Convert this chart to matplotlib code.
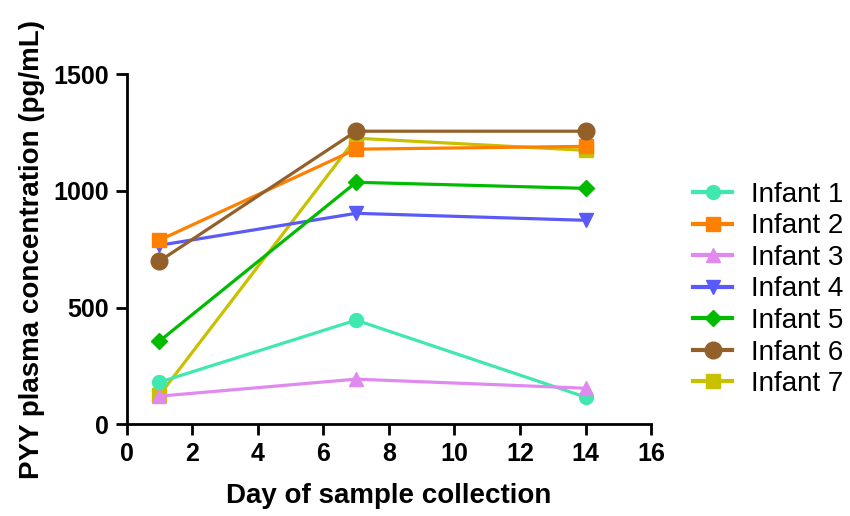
import matplotlib.pyplot as plt

plt.rcParams['font.family'] = ['Liberation Sans', 'DejaVu Sans']

days = [1, 7, 14]
infants = ['Infant 1', 'Infant 2', 'Infant 3', 'Infant 4', 'Infant 5', 'Infant 6', 'Infant 7']
infant1 = [180, 446, 116]
infant2 = [789, 1179, 1191]
infant3 = [120, 193, 154]
infant4 = [767, 904, 874]
infant5 = [356, 1037, 1011]
infant6 = [699, 1256, 1256]
infant7 = [124, 1226, 1174]
series = [infant1, infant2, infant3, infant4, infant5, infant6, infant7]

colors = ['#40E8B0', '#FF7F00', '#E08AF0', '#5A5AF8', '#00BB00', '#94602A', '#C8C000']
markers = ['o', 's', '^', 'v', 'D', 'o', 's']
msizes = [10, 10, 10, 10, 8, 12, 10]
zorders = [4, 4, 5, 3, 4, 6, 2]

fig = plt.figure(figsize=(8.5, 5.16), dpi=100)
ax = fig.add_axes([0.149, 0.178, 0.617, 0.678])

for name, vals, c, m, ms, z in zip(infants, series, colors, markers, msizes, zorders):
    ax.plot(days, vals, color=c, marker=m, markersize=ms, linewidth=2.3,
            label=name, zorder=z, clip_on=False)

ax.set_xlim(0, 16)
ax.set_ylim(0, 1500)
ax.set_xticks(range(0, 17, 2))
ax.set_yticks([0, 500, 1000, 1500])
for s in ['top', 'right']:
    ax.spines[s].set_visible(False)
for s in ['left', 'bottom']:
    ax.spines[s].set_linewidth(2)
ax.tick_params(width=2, length=8, labelsize=18, pad=5)
for lbl in ax.get_xticklabels() + ax.get_yticklabels():
    lbl.set_fontweight('bold')

ax.set_xlabel('Day of sample collection', fontsize=20, fontweight='bold', labelpad=12)
ax.set_ylabel('PYY plasma concentration (pg/mL)', fontsize=20, fontweight='bold', labelpad=6)

leg = ax.legend(loc='center left', bbox_to_anchor=(1.08, 0.385), frameon=False, fontsize=20,
                handlelength=1.4, labelspacing=0.2, handletextpad=0.7, borderpad=0,
                borderaxespad=0)
for line in leg.get_lines():
    line.set_linewidth(3)

fig.savefig('out.png', dpi=100)
